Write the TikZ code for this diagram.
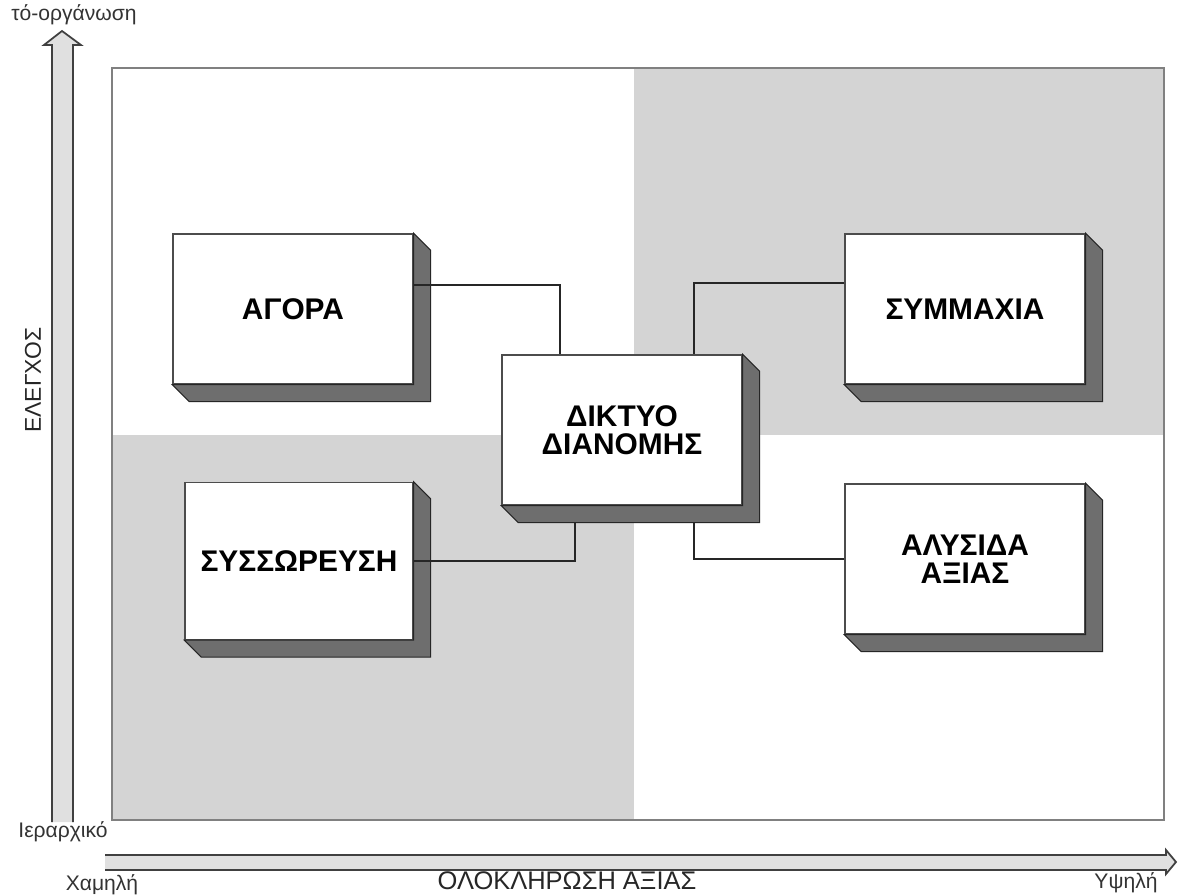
\documentclass[tikz,border=0pt]{standalone}
\usepackage{fontspec}
\setmainfont{Liberation Sans}
\usetikzlibrary{calc}
\definecolor{quadgray}{RGB}{212,212,212}
% depth of the 3d boxes
\newcommand{\blockside}[1]{%
  \filldraw[side] (#1.north east) -- ++(17,17) -- ($(#1.south east)+(17,17)$)
    -- ($(#1.south west)+(17,17)$) -- (#1.south west) -- (#1.south east) -- cycle;}
\begin{document}
\begin{tikzpicture}
[
    x=0.02cm, y=-0.02cm,
    quad/.style={fill=quadgray, draw=none},
    block/.style={rectangle, draw=black!70, line width=0.8pt, fill=white,
        minimum width=4.8cm, minimum height=3cm, align=center,
        font=\fontsize{17}{16}\selectfont\bfseries},
    side/.style={fill=black!57, draw=black!85, line width=0.6pt},
    link/.style={draw=black!85, line width=0.9pt},
    axis/.style={fill=black!12, draw=black!75, line width=1pt},
    small/.style={font=\fontsize{12}{14}\selectfont, text=black!80},
    title/.style={font=\fontsize{14.5}{16}\selectfont, text=black!85},
]
    \useasboundingbox (0,0) rectangle (1181,895);

    % quadrants
    \fill[white] (112,68) rectangle (1164,820);
    \fill[quad] (634,68) rectangle (1164,435);
    \fill[quad] (112,435) rectangle (634,820);
    \draw[black!50, line width=1.2pt] (112,68) rectangle (1164,820);

    % axes
    \filldraw[axis] (52,822) -- (52,45) -- (44,45) -- (62,31) -- (81,45) -- (73,45) -- (73,822);
    \filldraw[axis] (105,855) -- (1166,855) -- (1166,850) -- (1176,862) -- (1166,874) -- (1166,870) -- (105,870);

    \node[small] (ytop) at (74,15) {τό-οργάνωση};
    \node[small] (ybot) at (63,832) {Ιεραρχικό};
    \node[title, font=\fontsize{13}{15}\selectfont, rotate=90] (ylab) at (33,380) {ΕΛΕΓΧΟΣ};
    \node[small] (xlow) at (102,885) {Χαμηλή};
    \node[title] (xlab) at (567,881) {ΟΛΟΚΛΗΡΩΣΗ ΑΞΙΑΣ};
    \node[small] (xhigh) at (1126,883) {Υψηλή};

    % boxes
    \node[block] (agora) at (293,309) {ΑΓΟΡΑ};
    \node[block] (symmaxia) at (965,309) {ΣΥΜΜΑΧΙΑ};
    \node[block] (diktyo) at (622,430) {ΔΙΚΤΥΟ\\ΔΙΑΝΟΜΗΣ};
    \node[block, minimum width=4.56cm, minimum height=3.14cm] (syssoreysi) at (299,561) {ΣΥΣΣΩΡΕΥΣΗ};
    \node[block] (alysida) at (965,559) {ΑΛΥΣΙΔΑ\\ΑΞΙΑΣ};

    \blockside{agora}
    \blockside{symmaxia}
    \blockside{diktyo}
    \blockside{syssoreysi}
    \blockside{alysida}

    % links
    \draw[link] ([yshift=4.8mm]agora.east) -| ([xshift=-12.4mm]diktyo.north);
    \draw[link] ([yshift=5.2mm]symmaxia.west) -| ([xshift=14.4mm]diktyo.north);
    \draw[link] (syssoreysi.east) -| ([xshift=-9.4mm, yshift=-3.4mm]diktyo.south);
    \draw[link] (alysida.west) -| ([xshift=14.4mm, yshift=-3.4mm]diktyo.south);
\end{tikzpicture}
\end{document}
